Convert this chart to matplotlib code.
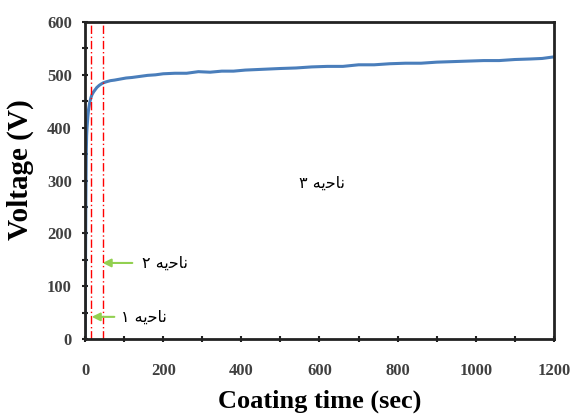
import matplotlib
matplotlib.use("Agg")
import matplotlib.pyplot as plt
from matplotlib.ticker import MultipleLocator

# coating time (s) and voltage (V)
time_s = [0, 1, 2, 3, 4, 5, 7, 9, 12, 15, 18, 22, 26, 30, 36, 42, 47, 55, 65, 75,
          90, 105, 120, 140, 160, 180, 200, 230, 260, 290, 320, 350, 380, 410,
          440, 470, 500, 540, 580, 620, 660, 700, 740, 780, 820, 860, 900, 940,
          980, 1020, 1060, 1100, 1140, 1170, 1200]
voltage = [0, 120, 260, 350, 385, 400, 420, 435, 448, 457, 463, 468, 472, 476, 480,
           483, 485, 487, 489, 490, 492, 494, 495, 497, 499, 500, 502, 503, 503,
           506, 505, 507, 507, 509, 510, 511, 512, 513, 515, 516, 516, 519, 519,
           521, 522, 522, 524, 525, 526, 527, 527, 529, 530, 531, 534]

region_bounds = [15, 47]   # dash-dot lines separating regions 1/2/3
region_labels = ["\u06f1 \ufeea\ufbfe\ufea3\ufe8e\ufee7",
                 "\u06f2 \ufeea\ufbfe\ufea3\ufe8e\ufee7",
                 "\u06f3 \ufeea\ufbfe\ufea3\ufe8e\ufee7"]

fig = plt.figure(figsize=(5.71, 4.15), dpi=100)
ax = fig.add_axes([0.149, 0.183, 0.821, 0.764])

ax.plot(time_s, voltage, color="#4a7ebb", linewidth=2.2)
for b in region_bounds:
    ax.axvline(b, color="red", linestyle=(0, (6, 2, 1, 2)), linewidth=1)

green = "#92d050"
ax.annotate("", xy=(10, 42), xytext=(82, 42),
            arrowprops=dict(arrowstyle="-|>", color=green, lw=1.5, mutation_scale=12))
ax.annotate("", xy=(38, 144), xytext=(128, 144),
            arrowprops=dict(arrowstyle="-|>", color=green, lw=1.5, mutation_scale=12))
txt = dict(fontsize=11.5, family="DejaVu Sans", ha="center", va="center")
ax.text(150, 42, region_labels[0], **txt)
ax.text(205, 144, region_labels[1], **txt)
ax.text(607, 295, region_labels[2], **txt)

ax.set_xlim(0, 1200)
ax.set_ylim(0, 600)
ax.xaxis.set_major_locator(MultipleLocator(200))
ax.xaxis.set_minor_locator(MultipleLocator(100))
ax.yaxis.set_major_locator(MultipleLocator(100))
ax.yaxis.set_minor_locator(MultipleLocator(50))
ax.tick_params(which="both", direction="inout", length=5, width=1.5, color="#222222")
ax.tick_params(labelsize=12, labelcolor="#404040")
ax.tick_params(axis="x", pad=15)
ax.tick_params(axis="y", pad=7)
for lab in ax.get_xticklabels() + ax.get_yticklabels():
    lab.set_family("Liberation Serif")
    lab.set_fontweight("bold")
for s in ax.spines.values():
    s.set_linewidth(2)
    s.set_color("#222222")

ax.set_xlabel("Coating time (sec)", family="Liberation Serif", fontweight="bold",
              fontsize=19, labelpad=7)
ax.set_ylabel("Voltage (V)", family="Liberation Serif", fontweight="bold",
              fontsize=21)
ax.yaxis.set_label_coords(-0.108, 0.535)

fig.savefig("out.png", dpi=100)
